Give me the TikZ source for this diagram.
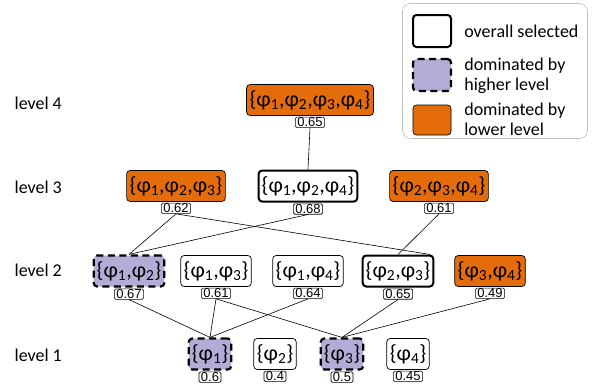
\documentclass[tikz,border=0pt]{standalone}
\usepackage{fontspec}
\setmainfont{Carlito}
\newfontfamily\scorefont{Liberation Sans}
\usetikzlibrary{positioning}
\definecolor{lowc}{HTML}{E46C0A}
\definecolor{highc}{HTML}{B3ACD6}
\newcommand{\ph}[1]{φ\textsubscript{#1}}
\tikzset{sn/.style={draw,line width=0.7pt,rounded corners=3.5pt,minimum height=31pt,inner xsep=3pt,font=\fontsize{22}{22}\selectfont},
  sel/.style={sn,line width=2pt},
  hd/.style={sn,fill=highc,line width=2.2pt,dash pattern=on 7pt off 4.5pt},
  ld/.style={sn,fill=lowc},
  sc/.style={draw,line width=0.6pt,rounded corners=1.5pt,inner xsep=2pt,inner ysep=0.6pt,font=\scorefont\fontsize{13}{13}\selectfont},
  lv/.style={font=\fontsize{18}{18}\selectfont,anchor=west},
  lg/.style={font=\fontsize{18}{20}\selectfont,anchor=west,align=left,inner sep=0pt}}

\begin{document}
\begin{tikzpicture}[x=1pt,y=-1pt,line width=0.6pt]
    \useasboundingbox (0,0) rectangle (595,391);
    % levels
    \node[lv] (l4) at (11,103) {level 4};
    \node[lv] (l3) at (11,187) {level 3};
    \node[lv] (l2) at (11,270) {level 2};
    \node[lv] (l1) at (11,355) {level 1};
    % level 4
    \node[ld] (n1234) at (310,100) {\{\ph1,\ph2,\ph3,\ph4\}};
    \node[sc,below=1pt of n1234] (s1234) {0.65};
    % level 3
    \node[ld] (n123) at (176,186) {\{\ph1,\ph2,\ph3\}};
    \node[sel] (n124) at (308,186) {\{\ph1,\ph2,\ph4\}};
    \node[ld] (n234) at (439,186) {\{\ph2,\ph3,\ph4\}};
    \node[sc,below=1pt of n123] (s123) {0.62};
    \node[sc,below=1pt of n124] (s124) {0.68};
    \node[sc,below=1pt of n234] (s234) {0.61};
    % level 2
    \node[hd] (n12) at (129,271) {\{\ph1,\ph2\}};
    \node[sn] (n13) at (216,271) {\{\ph1,\ph3\}};
    \node[sn] (n14) at (308,271) {\{\ph1,\ph4\}};
    \node[sel] (n23) at (398,271) {\{\ph2,\ph3\}};
    \node[ld] (n34) at (490,271) {\{\ph3,\ph4\}};
    \node[sc,below=1pt of n12] (s12) {0.67};
    \node[sc,below=1pt of n13] (s13) {0.61};
    \node[sc,below=1pt of n14] (s14) {0.64};
    \node[sc,below=1pt of n23] (s23) {0.65};
    \node[sc,below=1pt of n34] (s34) {0.49};
    % level 1
    \node[hd] (n1) at (210,354) {\{\ph1\}};
    \node[sn] (n2) at (275,354) {\{\ph2\}};
    \node[hd] (n3) at (342,354) {\{\ph3\}};
    \node[sn] (n4) at (408,354) {\{\ph4\}};
    \node[sc,below=1pt of n1] (s1) {0.6};
    \node[sc,below=1pt of n2] (s2) {0.4};
    \node[sc,below=1pt of n3] (s3) {0.5};
    \node[sc,below=1pt of n4] (s4) {0.45};
    % edges
    \draw (s1234.south) -- (n124.north);
    \draw (s123.south) -- (n12.north);
    \draw (s123.south) -- ([xshift=-4pt]n23.north east);
    \draw (s124.south) -- (n12.north);
    \draw (s234.south) -- (n23.north);
    \draw (s12.south) -- (n1.north);
    \draw (s13.south) -- (n1.north);
    \draw (s13.south) -- (n3.north);
    \draw (s14.south) -- (n1.north);
    \draw (s23.south) -- (n3.north);
    \draw (s34.south) -- (n3.north);
    % legend
    \node[draw=black!25,rounded corners=8pt,minimum width=185pt,minimum height=135pt] (legend) at (495,71) {};
    \node[sn,sel,minimum width=38pt,minimum height=32pt] (k1) at (432,31) {};
    \node[sn,hd,minimum width=38pt,minimum height=32pt] (k2) at (432,75) {};
    \node[sn,ld,minimum width=38pt,minimum height=30pt] (k3) at (432,120) {};
    \node[lg] (t1) at (464,31) {overall selected};
    \node[lg] (t2) at (464,76) {dominated by\\higher level};
    \node[lg] (t3) at (464,119) {dominated by\\lower level};
\end{tikzpicture}
\end{document}
